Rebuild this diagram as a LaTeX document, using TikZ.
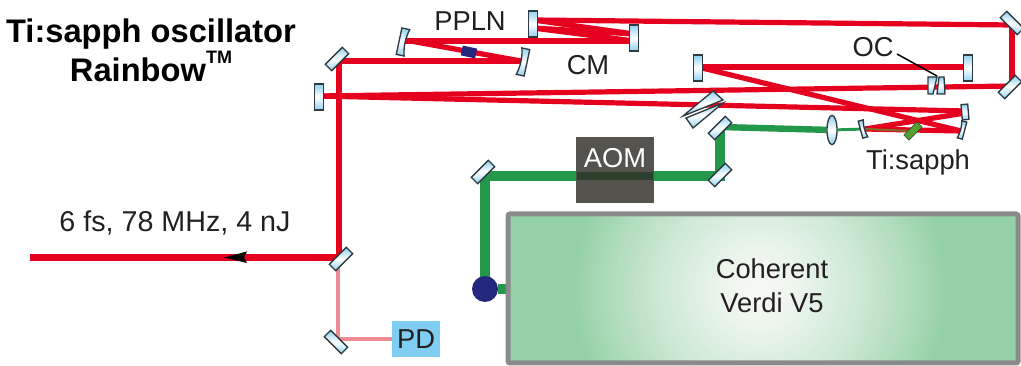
\documentclass[tikz,border=0pt]{standalone}
\usepackage{fontspec}
\setmainfont{Liberation Sans}
\usetikzlibrary{shapes.geometric}
\pgfdeclarelayer{beams}
\pgfsetlayers{beams,main}
\definecolor{beamred}{HTML}{E6001F}
\definecolor{beampink}{HTML}{F08A94}
\definecolor{beamgreen}{HTML}{23984A}
\definecolor{edgegrey}{HTML}{2E3A40}
\definecolor{glassblue}{HTML}{8FD0EF}
\definecolor{txt}{HTML}{231F20}
\definecolor{verdigreen}{HTML}{94D1A7}
\definecolor{verdipale}{HTML}{F6F9F4}
\tikzset{
  glass/.style={draw=edgegrey,line width=1pt,top color=glassblue,bottom color=glassblue,middle color=white},
  mirrorbox/.style={rectangle,glass,inner sep=0pt,minimum width=6.75pt,minimum height=19.5pt},
  diagmirror/.style={mirrorbox,minimum height=18pt},
  smallmirror/.style={rectangle,glass,inner sep=0pt,minimum width=5pt,minimum height=11.5pt},
  lab/.style={font=\fontsize{20.5}{25.5}\selectfont,text=txt,inner sep=0pt,align=center},
  redbeam/.style={draw=beamred,line width=3.9pt},
  pinkbeam/.style={draw=beampink,line width=3.7pt},
  greenbeam/.style={draw=beamgreen,line width=7.2pt},
  curved/.pic={\path[glass] (-4,-13.5) -- (4,-13.5) .. controls (1.5,-5) and (1.5,5) .. (4,13.5) -- (-4,13.5) -- cycle;},
}
\begin{document}
\begin{tikzpicture}[x=0.75pt,y=-0.75pt]
\useasboundingbox (0,0) rectangle (1021,366);
% Verdi
\begin{scope}
\clip (508,214) rectangle (1018,363);
\fill[verdigreen] (508,214) rectangle (1018,363);
\foreach \rad [evaluate=\rad as \pct using 100*(\rad/190)^1.4] in {190,185,...,5}{
  \fill[verdigreen!\pct!verdipale] (760,290) circle (\rad);
}
\end{scope}
\node[rectangle,draw={rgb,255:red,138;green,138;blue,138},line width=3.75pt,rounded corners=1.5pt,minimum width=382.5pt,minimum height=111.75pt,inner sep=0pt] (verdi) at (763,288.5) {};
\node[lab] (verditext) at (772,286) {Coherent\\Verdi V5};
% Mirrors
\node[diagmirror,rotate=-45] (m1) at (337,59) {};
\node[mirrorbox] (m2) at (319,97) {};
\node[mirrorbox] (m3) at (533,24) {};
\node[mirrorbox] (m4) at (634,38) {};
\node[diagmirror,rotate=45] (m5) at (1012,23) {};
\node[diagmirror,rotate=-45] (m6) at (1010,87) {};
\node[mirrorbox] (m7) at (698,68) {};
\node[mirrorbox] (m8) at (968,68) {};
\node[smallmirror,rotate=5] (m9) at (965,112) {};
\node[diagmirror,rotate=-45] (g1) at (720,128) {};
\node[diagmirror,rotate=-45] (g2) at (720,175) {};
\node[diagmirror,rotate=-45] (g3) at (483,172) {};
\node[diagmirror,rotate=-45] (out) at (341,259) {};
\node[diagmirror,rotate=45] (pdm) at (336,342) {};
% Curved mirrors
\pic at (403,42) [rotate=-12] {curved};
\pic at (523,62) [rotate=-12,xscale=-1] {curved};
\pic at (863,129) [rotate=15,scale=0.65] {curved};
\pic at (962,130) [rotate=-15,xscale=-0.65,yscale=0.65] {curved};
% hit points
\coordinate (cl) at (405,40);
\coordinate (cl2) at (405,41);
\coordinate (cr) at (521,61);
\coordinate (m3a) at (533,20);
\coordinate (m3b) at (533,28);
\coordinate (m4a) at (634,34);
\coordinate (m4b) at (634,41);
\coordinate (m5a) at (1012,25);
\coordinate (m6a) at (1012,86);
\coordinate (m2a) at (319,96);
\coordinate (sr) at (961,131);
\coordinate (sl) at (865,129);
\coordinate (m9a) at (965,111);
\coordinate (m9b) at (965,113);
\coordinate (m7a) at (698,67);
\coordinate (m8a) at (968,67);
\coordinate (beamend) at (30,257.5);
\coordinate (vin) at (339,61);
\coordinate (vout) at (339,257.5);
\coordinate (pink1) at (338,259);
\coordinate (pink2) at (338,339);
\coordinate (pd1) at (392,339);
\coordinate (gg3) at (485,176);
\coordinate (gg2) at (720,176);
\coordinate (gg1) at (720,127);
\coordinate (gs) at (485,291);
% Parts
\node[rectangle,draw=none,fill={rgb,255:red,84;green,83;blue,77},minimum width=58.5pt,minimum height=49.5pt,inner sep=0pt] (aom) at (615,170) {};
\node[rectangle,fill={rgb,255:red,45;green,63;blue,45},minimum width=57pt,minimum height=6pt,inner sep=0pt] (aomband) at (615,176) {};
\node[lab,text=white] (aomtext) at (615,158) {AOM};
\node[rectangle,fill={rgb,255:red,127;green,205;blue,240},minimum width=36pt,minimum height=27pt,inner sep=0pt] (pd) at (416,339) {};
\node[lab] (pdtext) at (416,339) {PD};
\node[circle,fill={rgb,255:red,36;green,40;blue,125},minimum size=19.5pt,inner sep=0pt] (source) at (485,289) {};
\node[rectangle,fill={rgb,255:red,36;green,40;blue,125},minimum width=11pt,minimum height=7.5pt,inner sep=0pt,rotate=-12] (ppln) at (469,52) {};
\node[rectangle,fill={rgb,255:red,86;green,160;blue,50},draw={rgb,255:red,40;green,90;blue,40},line width=0.5pt,minimum width=5.5pt,minimum height=14pt,inner sep=0pt,rotate=-45] (tisa) at (913,131) {};
\node[ellipse,glass,minimum width=7.5pt,minimum height=22pt,inner sep=0pt] (lens) at (832,130) {};
% Wedges
\path[glass] (713,91) -- (723,100) -- (683,116) -- cycle;
\path[glass] (723,103) -- (686,118) -- (693,128) -- cycle;
\path[glass] (928,77) -- (937,77) -- (933,94) -- (928,94) -- cycle;
\path[glass] (939,77) -- (944,77) -- (945,94) -- (937,94) -- cycle;
% Beams
\begin{pgfonlayer}{beams}
\path[redbeam] (vin) -- (cr);
\path[redbeam] (cr) -- (cl);
\path[redbeam] (cl2) -- (m4b);
\path[redbeam] (m4b) -- (m3b);
\path[redbeam] (m3b) -- (m4a);
\path[redbeam] (m4a) -- (m3a);
\path[redbeam] (m3a) -- (m5a);
\path[redbeam] (m5a) -- (m6a);
\path[redbeam] (m6a) -- (m2a);
\path[redbeam] (m2a) -- (m9a);
\path[redbeam] (m9b) -- (sl);
\path[redbeam] (sl) -- (sr);
\path[redbeam] (sr) -- (m7a);
\path[redbeam] (m7a) -- (m8a);
\path[redbeam] (vin) -- (vout);
\path[redbeam,line width=4.6pt] (vout) -- (beamend);
\path[pinkbeam,line join=miter] (pink1) -- (pink2) -- (pd1);
\path[greenbeam,line join=miter] (gs) -- (gg3) -- (gg2) -- (gg1);
\path[draw=beamgreen,line width=4.8pt] (gg1) -- (lens);
\path[draw=beamgreen,line width=2.2pt] (lens) -- (sl);
\path[draw={rgb,255:red,130;green,110;blue,40},line width=1.5pt] (sl) -- (tisa);
\path[greenbeam] (source) -- (verdi.west |- source);
\end{pgfonlayer}
\fill[black] (224,257.5) -- (247,251.5) -- (244,257.5) -- (247,263) -- cycle;
% Leader
\coordinate (ocline) at (897,54);
\coordinate (octip) at (937,76);
\draw[black,line width=1.1pt] (ocline) -- (octip);
% Labels
\node[lab,font=\bfseries\fontsize{24.5}{29}\selectfont,text=black] (title) at (151,50) {Ti:sapph oscillator\\Rainbow\raisebox{1.0ex}{\fontsize{13.5}{13.5}\selectfont TM}};
\node[lab,font=\fontsize{21.5}{25}\selectfont] (power) at (175,223) {6 fs, 78 MHz, 4 nJ};
\node[lab] (pplnl) at (470,21) {PPLN};
\node[lab] (cml) at (588,65) {CM};
\node[lab] (ocl) at (873,47) {OC};
\node[lab] (tisal) at (918,162) {Ti:sapph};
\end{tikzpicture}
\end{document}
